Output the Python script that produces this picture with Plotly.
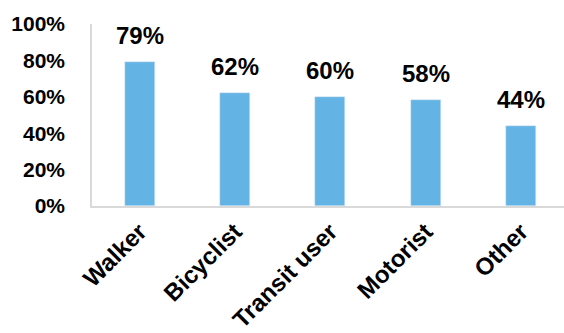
import plotly.graph_objects as go

categories = ["Walker", "Bicyclist", "Transit user", "Motorist", "Other"]
values = [79, 62, 60, 58, 44]
y_ticks = [0, 20, 40, 60, 80, 100]
y_tick_labels = ["0%", "20%", "40%", "60%", "80%", "100%"]

FONT = "Liberation Sans, Arial, sans-serif"
BAR = "#63B3E4"

fig = go.Figure(go.Bar(x=categories, y=values, marker_color=BAR, width=0.315, hoverinfo="skip"))

for c, v in zip(categories, values):
    fig.add_annotation(x=c, y=v, text=f"{v}%", showarrow=False, yanchor="bottom", yshift=11,
                       font=dict(family=FONT, size=24, color="black", weight="bold"))

fig.update_layout(
    width=564, height=333,
    margin=dict(l=92, r=0, t=24, b=123),
    plot_bgcolor="white", paper_bgcolor="white",
    showlegend=False, bargap=0,
)
fig.update_xaxes(range=[-0.5, 4.45], tickangle=-45, showgrid=False, showline=True,
                 linecolor="#D9D9D9", linewidth=2, ticks="",
                 tickfont=dict(family=FONT, size=24, color="black", weight="bold"))
fig.update_yaxes(range=[0, 100], tickvals=y_ticks, ticktext=y_tick_labels, showgrid=False,
                 showline=True, linecolor="#D9D9D9", linewidth=1.5, ticks="", zeroline=False,
                 ticklabelstandoff=21,
                 tickfont=dict(family=FONT, size=21, color="black", weight="bold"))

fig.write_html("out.html")
